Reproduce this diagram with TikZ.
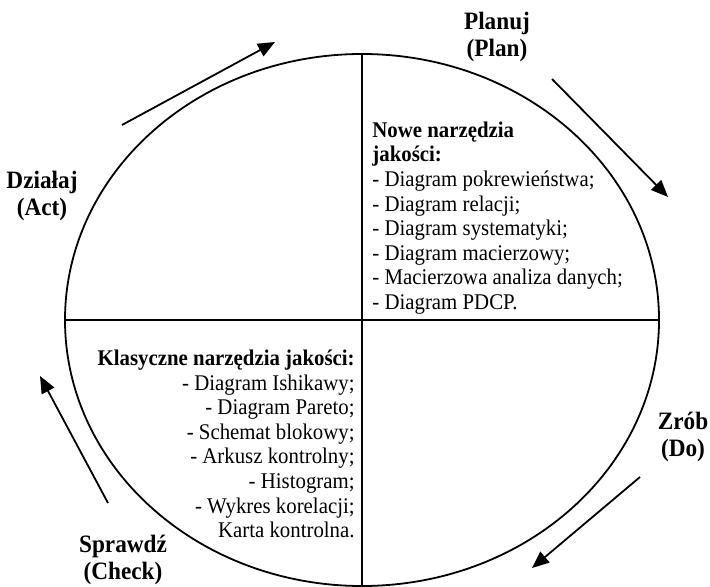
\documentclass[tikz,border=0pt]{standalone}
\usepackage{fontspec}
\setmainfont[FakeStretch=0.93]{Liberation Serif}
\usetikzlibrary{arrows.meta}

\begin{document}
\begin{tikzpicture}[x=0.5pt, y=-0.5pt,
	phase/.style={align=center, inner sep=0pt, font=\fontsize{12.5}{13.2}\selectfont\bfseries},
	tools/.style={inner sep=0pt, font=\fontsize{11.2}{12.3}\selectfont},
	rim/.style={line width=0.9pt},
	turn/.style={line width=0.9pt, -{Triangle[length=8.5pt, width=7pt]}}]
			\useasboundingbox (0,0) rectangle (710,587);
			
			% wheel
			\coordinate (C) at (362,320);
			\draw [rim] (C) ellipse [x radius=297, y radius=266];
			\coordinate (top) at (362,54);
			\coordinate (bottom) at (362,586);
			\coordinate (left) at (65,320);
			\coordinate (right) at (659,320);
			\draw [rim] (top) -- (bottom);
			\draw [rim] (left) -- (right);
			
			% phases
			\node [phase] (plan) at (497,37) {Planuj\\(Plan)};
			\node [phase] (do) at (683,437) {Zrób\\(Do)};
			\node [phase] (check) at (123,560) {Sprawdź\\(Check)};
			\node [phase] (act) at (42,196) {Działaj\\(Act)};
			
			% tools
			\node [tools, align=left, anchor=west] (new) at (372,218) {\textbf{Nowe narzędzia}\\\textbf{jakości:}\\- Diagram pokrewieństwa;\\- Diagram relacji;\\- Diagram systematyki;\\- Diagram macierzowy;\\- Macierzowa analiza danych;\\- Diagram PDCP.};
			\node [tools, align=right, anchor=east] (classic) at (355,444) {\textbf{Klasyczne narzędzia jakości:}\\- Diagram Ishikawy;\\- Diagram Pareto;\\- Schemat blokowy;\\- Arkusz kontrolny;\\- Histogram;\\- Wykres korelacji;\\Karta kontrolna.};
			
			% cycle arrows
			\coordinate (act-s) at (122,125);
			\coordinate (act-e) at (275,42);
			\coordinate (plan-s) at (552,79);
			\coordinate (plan-e) at (668,197);
			\coordinate (do-s) at (640,477);
			\coordinate (do-e) at (532,568);
			\coordinate (check-s) at (108,503);
			\coordinate (check-e) at (40,376);
			\draw [turn] (act-s) -- (act-e);
			\draw [turn] (plan-s) -- (plan-e);
			\draw [turn] (do-s) -- (do-e);
			\draw [turn] (check-s) -- (check-e);
			
		\end{tikzpicture}
\end{document}
